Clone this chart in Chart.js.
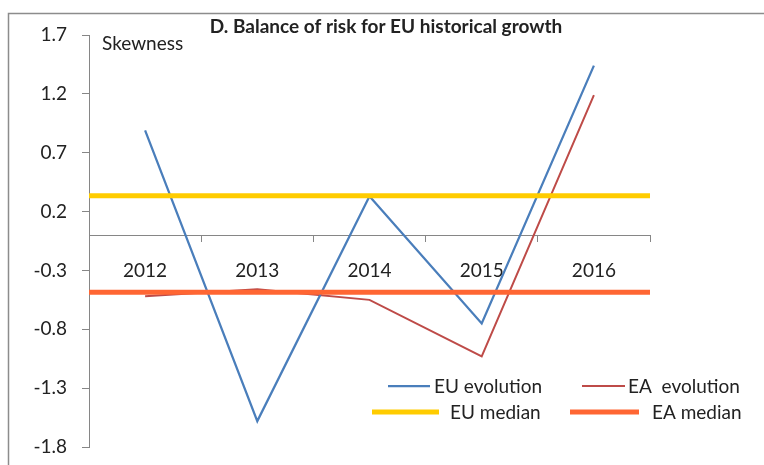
<!DOCTYPE html>
<html>
<head>
<meta charset="utf-8">
<script src="https://cdn.jsdelivr.net/npm/chart.js@4"></script>
<style>
  html, body { margin: 0; padding: 0; background: #fff; }
  #wrap { width: 764px; height: 465px; position: relative; }
</style>
</head>
<body>
<div id="wrap"><canvas id="chart" width="764" height="465"></canvas></div>
<script>
const years = ["2012", "2013", "2014", "2015", "2016"];
const euEvolution = [0.89, -1.58, 0.33, -0.75, 1.44];
const eaEvolution = [-0.52, -0.46, -0.55, -1.03, 1.19];
const euMedian = 0.335;
const eaMedian = -0.485;
const yTicks = [-1.8, -1.3, -0.8, -0.3, 0.2, 0.7, 1.2, 1.7];

const FONT = "Lato, 'Liberation Sans', Arial, sans-serif";
const TEXT = "#222";
const AXIS = "#868686";

// title, "Skewness" note, outer frame and the legend
const decor = {
    id: "decor",
    beforeDraw(chart) {
        const ctx = chart.ctx;
        ctx.save();
        ctx.strokeStyle = "#8c8c8c";
        ctx.lineWidth = 1.5;
        ctx.strokeRect(8.5, 13.5, 800, 500);
        ctx.restore();
    },
    afterDraw(chart) {
        const ctx = chart.ctx;
        ctx.save();
        ctx.fillStyle = TEXT;
        ctx.textBaseline = "middle";
        ctx.font = "bold 19px " + FONT;
        ctx.textAlign = "center";
        ctx.fillText("D. Balance of risk for EU historical growth", 386, 27);
        ctx.font = "19px " + FONT;
        ctx.textAlign = "left";
        ctx.fillText("Skewness", 102, 44);

        const slots = [
            { x1: 388, x2: 430, tx: 434, y: 386 },
            { x1: 582, x2: 625, tx: 628, y: 386 },
            { x1: 372, x2: 439, tx: 450, y: 412 },
            { x1: 570, x2: 639, tx: 652, y: 412 }
        ];
        chart.data.datasets.forEach((ds, i) => {
            const s = slots[i];
            ctx.strokeStyle = ds.borderColor;
            ctx.lineWidth = ds.borderWidth;
            ctx.beginPath();
            ctx.moveTo(s.x1, s.y);
            ctx.lineTo(s.x2, s.y);
            ctx.stroke();
            ctx.fillStyle = TEXT;
            ctx.fillText(ds.label, s.tx, s.y + 1);
        });
        ctx.restore();
    }
};

new Chart(document.getElementById("chart"), {
    type: "line",
    data: {
        labels: years,
        datasets: [
            {
                label: "EU evolution",
                data: euEvolution,
                borderColor: "#4a7ebb",
                borderWidth: 2.25,
                pointRadius: 0,
                order: 1
            },
            {
                label: "EA  evolution",
                data: eaEvolution,
                borderColor: "#be4b48",
                borderWidth: 2,
                pointRadius: 0,
                order: 1
            },
            {
                label: "EU median",
                data: [{ x: 0, y: euMedian }, { x: 1, y: euMedian }],
                xAxisID: "x2",
                borderColor: "#ffcc00",
                borderWidth: 5,
                pointRadius: 0,
                order: 0
            },
            {
                label: "EA median",
                data: [{ x: 0, y: eaMedian }, { x: 1, y: eaMedian }],
                xAxisID: "x2",
                borderColor: "#ff6633",
                borderWidth: 5,
                pointRadius: 0,
                order: 0
            }
        ]
    },
    options: {
        responsive: false,
        animation: false,
        layout: { padding: { left: 0, right: 114, top: 35, bottom: 18 } },
        plugins: {
            legend: { display: false },
            title: { display: false },
            tooltip: { enabled: false }
        },
        scales: {
            x: {
                type: "category",
                position: { y: 0 },
                offset: true,
                grid: {
                    offset: true,
                    drawOnChartArea: false,
                    tickLength: 6,
                    color: AXIS
                },
                border: { color: AXIS, width: 1 },
                ticks: {
                    color: TEXT,
                    font: { family: FONT, size: 19 },
                    padding: 18,
                    maxRotation: 0
                }
            },
            x2: {
                type: "linear",
                min: 0,
                max: 1,
                display: false
            },
            y: {
                min: yTicks[0],
                max: yTicks[yTicks.length - 1],
                afterBuildTicks: scale => {
                    scale.ticks = yTicks.map(v => ({ value: v }));
                },
                afterFit: scale => {
                    // fixed axis width; tick padding should not push the plot edges
                    scale.width = 89;
                    scale.paddingTop = 0;
                    scale.paddingBottom = 0;
                },
                grid: {
                    drawOnChartArea: false,
                    tickLength: 7,
                    color: AXIS
                },
                border: { color: AXIS, width: 1 },
                ticks: {
                    color: TEXT,
                    font: { family: FONT, size: 19 },
                    padding: 15,
                    callback: v => v.toFixed(1)
                }
            }
        }
    },
    plugins: [decor]
});
</script>
</body>
</html>
